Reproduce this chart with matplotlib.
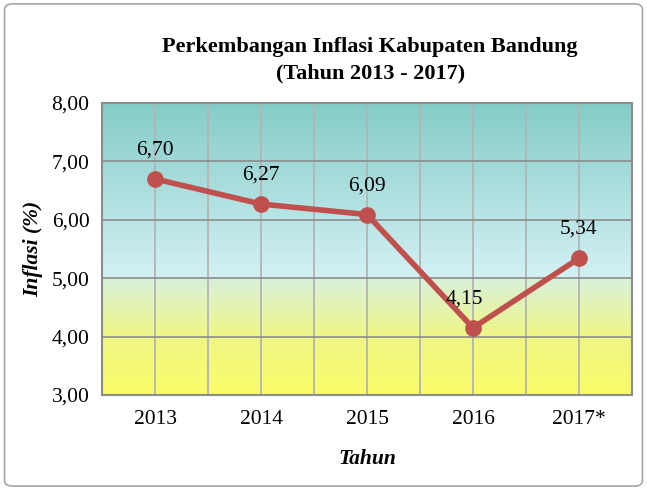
import matplotlib.pyplot as plt
import numpy as np
from matplotlib.colors import LinearSegmentedColormap
from matplotlib.patches import FancyBboxPatch

years = ["2013", "2014", "2015", "2016", "2017*"]
inflasi = [6.70, 6.27, 6.09, 4.15, 5.34]
labels = ["6,70", "6,27", "6,09", "4,15", "5,34"]
yticks = [3.0, 4.0, 5.0, 6.0, 7.0, 8.0]

plt.rcParams["font.family"] = ["Liberation Serif", "DejaVu Serif"]

fig = plt.figure(figsize=(6.47, 4.90), dpi=100)
ax = fig.add_axes([0.1577, 0.1939, 0.8191, 0.5959])

# background gradient: yellow -> pale green up to 5,00, then pale cyan -> teal
grad = LinearSegmentedColormap.from_list("bg", [
    (0.0, "#fbfb6a"),
    (0.2, "#eff784"),
    (0.4, "#d9f0dc"),
    (0.401, "#d4f1f4"),
    (1.0, "#84ccc8"),
])
ax.imshow(np.linspace(0, 1, 512).reshape(-1, 1), cmap=grad, aspect="auto",
          extent=(-0.5, 4.5, 3, 8), origin="lower", zorder=0)

x = np.arange(len(years))
ax.set_xlim(-0.5, 4.5)
ax.set_ylim(3, 8)

for v in np.arange(-0.5, 4.51, 0.5):
    ax.axvline(v, color="#b4b4b4", lw=1.3, zorder=1)
for v in yticks:
    ax.axhline(v, color="#8c8c8c", lw=1.2, zorder=1)

ax.plot(x, inflasi, color="#c0504d", lw=4, marker="o", markersize=11, zorder=3)
for xi, yi, lab in zip(x, inflasi, labels):
    dx = -0.08 if lab == "4,15" else 0
    ax.annotate(lab, (xi + dx, yi), xytext=(0, 14), textcoords="offset points",
                ha="center", va="bottom", fontsize=15.5)

ax.set_xticks(x)
ax.set_xticklabels(years, fontsize=15.5)
ax.set_yticks(yticks)
ax.set_yticklabels([f"{v:.2f}".replace(".", ",") for v in yticks], fontsize=15.5)
ax.tick_params(length=0)
ax.tick_params(axis="y", pad=9)
ax.tick_params(axis="x", pad=11)

for s in ax.spines.values():
    s.set_color("#8c8c8c")
    s.set_linewidth(1.5)

ax.set_xlabel("Tahun", fontsize=15.5, fontweight="bold", style="italic", labelpad=14)
ax.set_ylabel("Inflasi (%)", fontsize=15.5, fontweight="bold", style="italic", labelpad=6)

fig.text(0.572, 0.904, "Perkembangan Inflasi Kabupaten Bandung", ha="center",
         va="center", fontsize=16, fontweight="bold")
fig.text(0.572, 0.851, "(Tahun 2013 - 2017)", ha="center", va="center",
         fontsize=16, fontweight="bold")

border = FancyBboxPatch((0.007, 0.008), 0.986, 0.984,
                        boxstyle="round,pad=0,rounding_size=0.012",
                        transform=fig.transFigure, fill=False,
                        edgecolor="#a6a6a6", lw=1.2)
fig.patches.append(border)

fig.savefig("out.png", dpi=100)
